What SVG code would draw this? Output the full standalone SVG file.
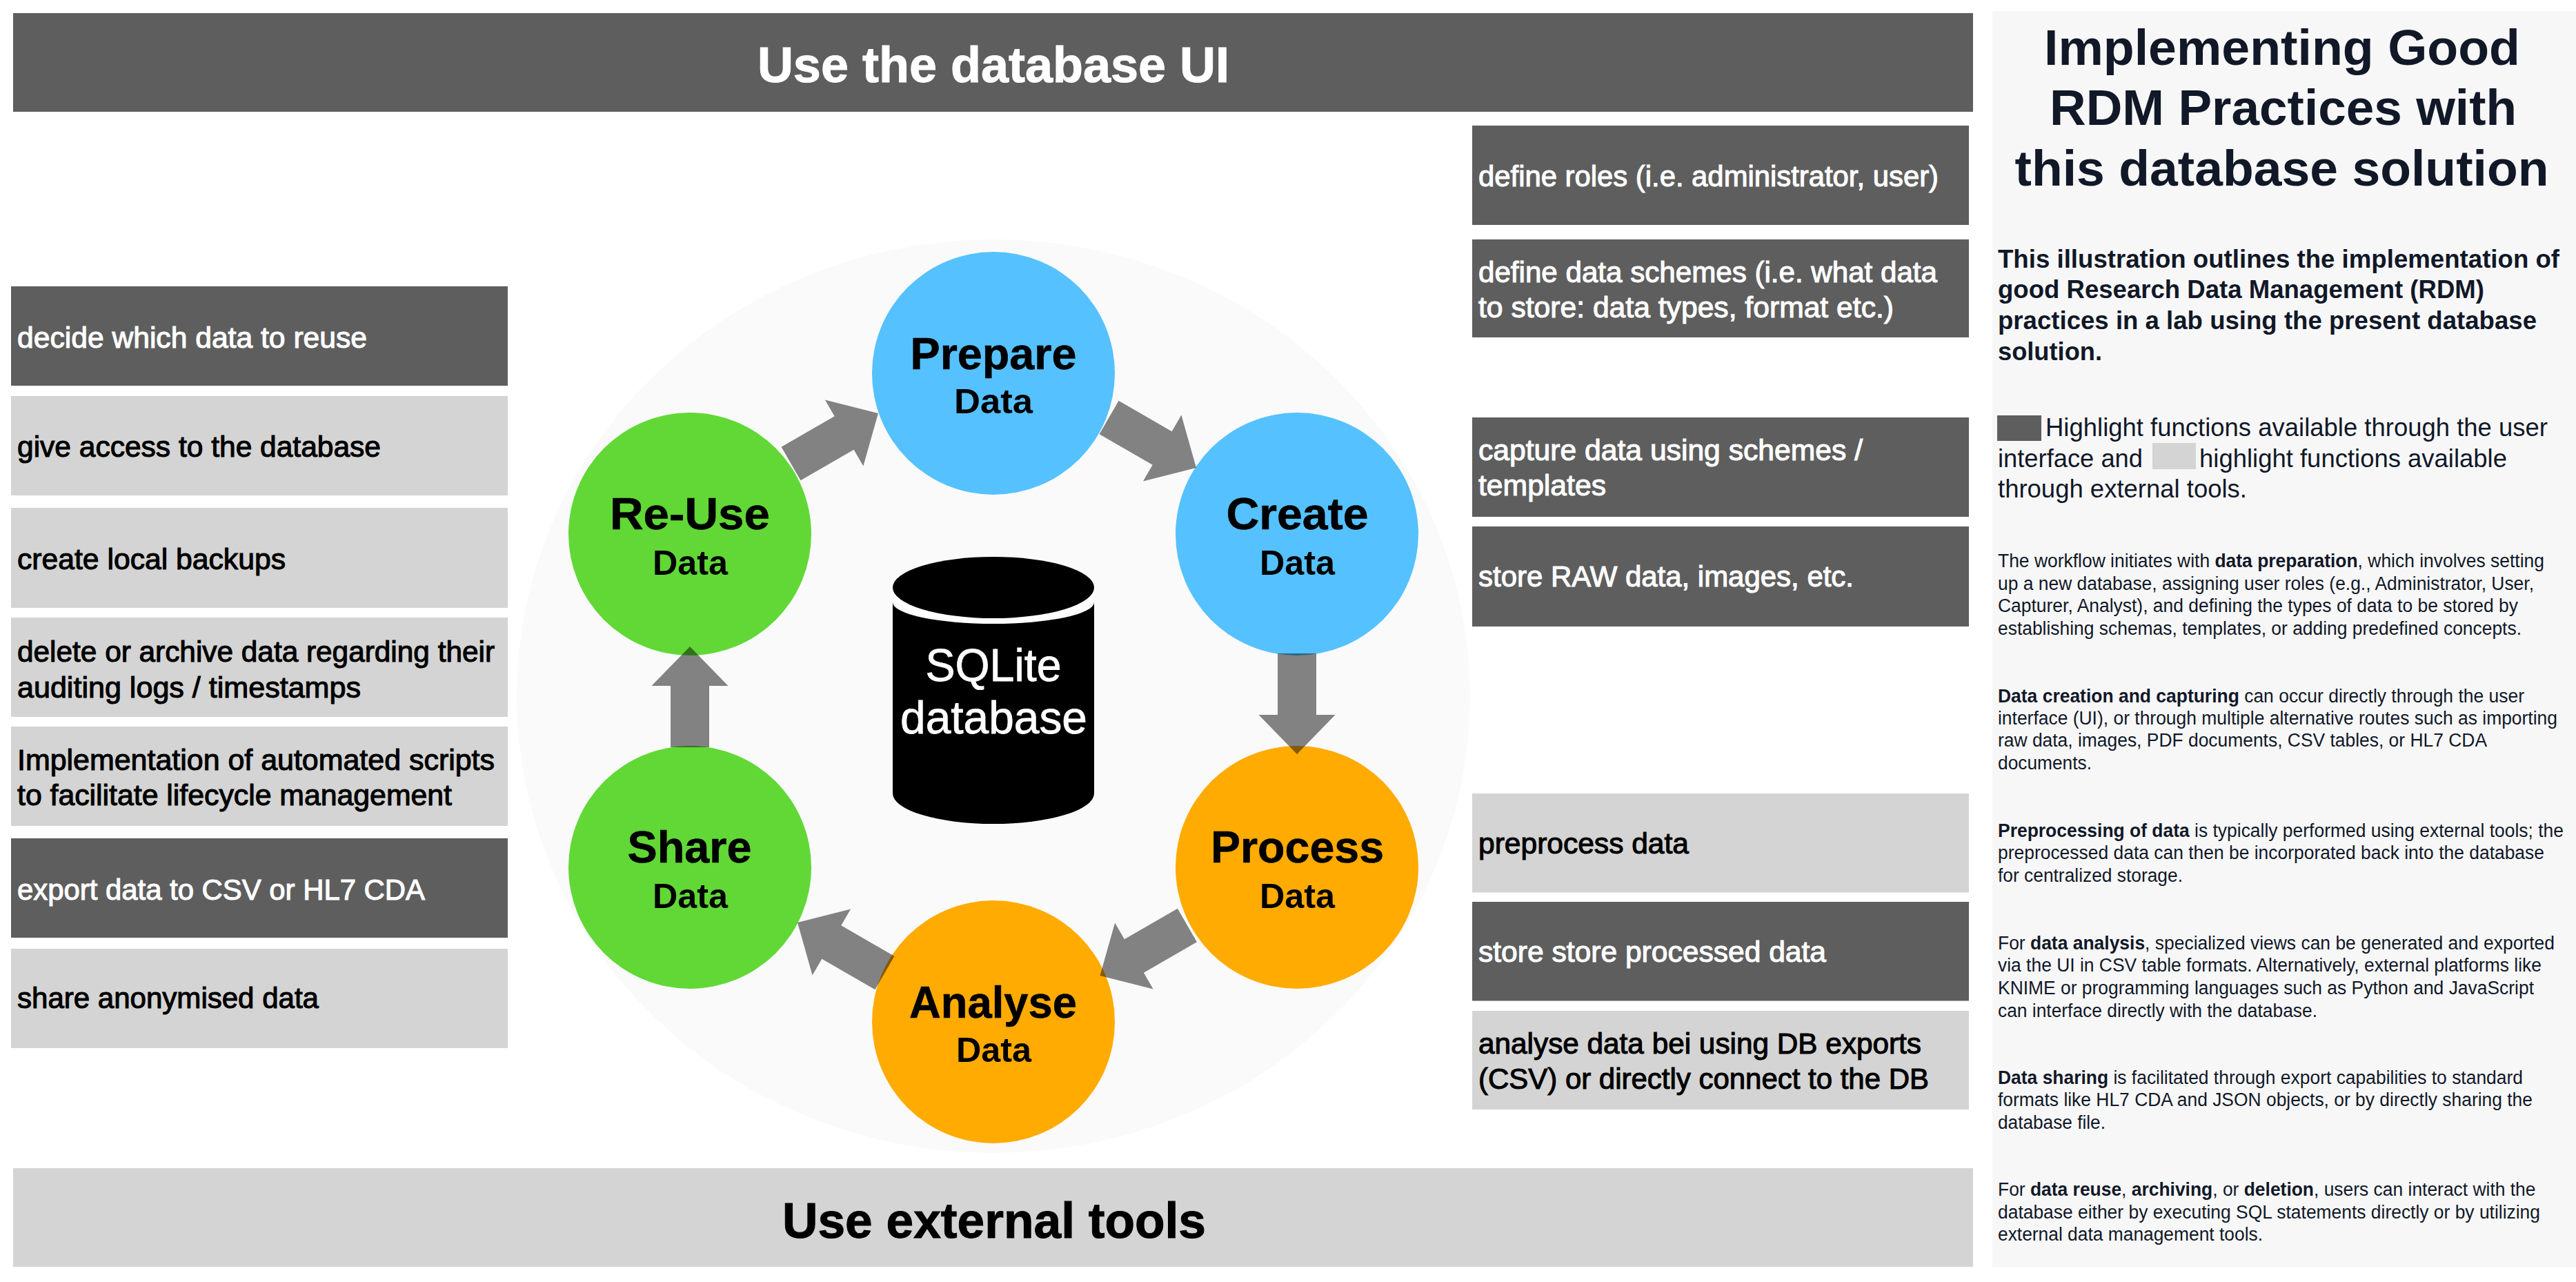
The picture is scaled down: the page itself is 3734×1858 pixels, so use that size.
<svg xmlns="http://www.w3.org/2000/svg" width="3734" height="1858" viewBox="0 0 3734 1858">
<style>
text{font-family:"Liberation Sans",Arial,sans-serif}
.dark{fill:#5e5e5e}.light{fill:#d4d4d4}
.box{font-size:42.5px;stroke-width:1.1px}
.w{fill:#fff;stroke:#fff}.k{fill:#000;stroke:#000}
.banner{font-size:72px;font-weight:700;text-anchor:middle}
.big{font-size:64px;font-weight:700;text-anchor:middle;fill:#000;stroke:#000;stroke-width:.6px}
.sub{font-size:50px;font-weight:700;text-anchor:middle;fill:#000}
.blue{fill:#56c1ff}.green{fill:#61d836}.orange{fill:#ffab01}
.title{font-size:73px;font-weight:700;text-anchor:middle;fill:#111827}
.intro{font-size:36.7px;font-weight:700;fill:#111827}
.legend{font-size:36.5px;fill:#111827}
.para{font-size:27px;fill:#111827}
.b{font-weight:700}
.db{font-size:66px;fill:#fff;stroke:#fff;stroke-width:.8px;text-anchor:middle}
</style>
<defs>
<polygon id="arrow" points="-146,-28 -57,-28 -57,-55.5 0,0 -57,55.5 -57,28 -146,28" fill="#000" fill-opacity=".48"/>
</defs>
<rect width="3734" height="1858" fill="#fff"/>
<g id="banner-ui"><rect class="dark" x="19" y="19" width="2841" height="143"/><text class="banner w" x="1440" y="119">Use the database UI</text></g>
<g id="banner-ext"><rect class="light" x="19" y="1693" width="2841" height="143"/><text class="banner k" x="1441" y="1794" textLength="614" lengthAdjust="spacingAndGlyphs">Use external tools</text></g>
<g id="panel">
<rect x="2888" y="16" width="846" height="1821" fill="#f7f7f8"/>
<text class="title" x="3308" y="94" textLength="690" lengthAdjust="spacingAndGlyphs">Implementing Good</text>
<text class="title" x="3309.5" y="181" textLength="677" lengthAdjust="spacingAndGlyphs">RDM Practices with</text>
<text class="title" x="3307.5" y="269" textLength="774" lengthAdjust="spacingAndGlyphs">this database solution</text>
<text class="intro" x="2896" y="388" textLength="814" lengthAdjust="spacingAndGlyphs">This illustration outlines the implementation of</text>
<text class="intro" x="2896" y="432" textLength="705" lengthAdjust="spacingAndGlyphs">good Research Data Management (RDM)</text>
<text class="intro" x="2896" y="477" textLength="781" lengthAdjust="spacingAndGlyphs">practices in a lab using the present database</text>
<text class="intro" x="2896" y="522" textLength="151" lengthAdjust="spacingAndGlyphs">solution.</text>
<rect class="dark" x="2895" y="602" width="64" height="37"/><rect class="light" x="3120" y="642" width="63" height="38"/>
<text class="legend" x="2965" y="632" textLength="728" lengthAdjust="spacingAndGlyphs">Highlight functions available through the user</text>
<text class="legend" x="2896" y="677" textLength="210" lengthAdjust="spacingAndGlyphs">interface and</text>
<text class="legend" x="3188" y="677" textLength="446" lengthAdjust="spacingAndGlyphs">highlight functions available</text>
<text class="legend" x="2896" y="721" textLength="361" lengthAdjust="spacingAndGlyphs">through external tools.</text>
<text class="para" x="2896" y="822" textLength="792" lengthAdjust="spacingAndGlyphs">The workflow initiates with <tspan class="b">data preparation</tspan>, which involves setting</text>
<text class="para" x="2896" y="855" textLength="777" lengthAdjust="spacingAndGlyphs">up a new database, assigning user roles (e.g., Administrator, User,</text>
<text class="para" x="2896" y="887" textLength="754" lengthAdjust="spacingAndGlyphs">Capturer, Analyst), and defining the types of data to be stored by</text>
<text class="para" x="2896" y="920" textLength="759" lengthAdjust="spacingAndGlyphs">establishing schemas, templates, or adding predefined concepts.</text>
<text class="para" x="2896" y="1018" textLength="763" lengthAdjust="spacingAndGlyphs"><tspan class="b">Data creation and capturing</tspan> can occur directly through the user</text>
<text class="para" x="2896" y="1050" textLength="811" lengthAdjust="spacingAndGlyphs">interface (UI), or through multiple alternative routes such as importing</text>
<text class="para" x="2896" y="1082" textLength="709" lengthAdjust="spacingAndGlyphs">raw data, images, PDF documents, CSV tables, or HL7 CDA</text>
<text class="para" x="2896" y="1115" textLength="136" lengthAdjust="spacingAndGlyphs">documents.</text>
<text class="para" x="2896" y="1213" textLength="820" lengthAdjust="spacingAndGlyphs"><tspan class="b">Preprocessing of data</tspan> is typically performed using external tools; the</text>
<text class="para" x="2896" y="1245" textLength="792" lengthAdjust="spacingAndGlyphs">preprocessed data can then be incorporated back into the database</text>
<text class="para" x="2896" y="1278" textLength="268" lengthAdjust="spacingAndGlyphs">for centralized storage.</text>
<text class="para" x="2896" y="1376" textLength="807" lengthAdjust="spacingAndGlyphs">For <tspan class="b">data analysis</tspan>, specialized views can be generated and exported</text>
<text class="para" x="2896" y="1408" textLength="788" lengthAdjust="spacingAndGlyphs">via the UI in CSV table formats. Alternatively, external platforms like</text>
<text class="para" x="2896" y="1441" textLength="777" lengthAdjust="spacingAndGlyphs">KNIME or programming languages such as Python and JavaScript</text>
<text class="para" x="2896" y="1474" textLength="463" lengthAdjust="spacingAndGlyphs">can interface directly with the database.</text>
<text class="para" x="2896" y="1571" textLength="761" lengthAdjust="spacingAndGlyphs"><tspan class="b">Data sharing</tspan> is facilitated through export capabilities to standard</text>
<text class="para" x="2896" y="1603" textLength="775" lengthAdjust="spacingAndGlyphs">formats like HL7 CDA and JSON objects, or by directly sharing the</text>
<text class="para" x="2896" y="1636" textLength="156" lengthAdjust="spacingAndGlyphs">database file.</text>
<text class="para" x="2896" y="1733" textLength="779.5" lengthAdjust="spacingAndGlyphs">For <tspan class="b">data reuse</tspan>, <tspan class="b">archiving</tspan>, or <tspan class="b">deletion</tspan>, users can interact with the</text>
<text class="para" x="2896" y="1766" textLength="786" lengthAdjust="spacingAndGlyphs">database either by executing SQL statements directly or by utilizing</text>
<text class="para" x="2896" y="1798" textLength="384" lengthAdjust="spacingAndGlyphs">external data management tools.</text>
</g>
<ellipse id="backdrop" cx="1440" cy="1009" rx="691" ry="662" fill="#fafafa"/>
<g id="prepare"><circle class="blue" cx="1440" cy="541" r="176"/><text class="big" x="1440" y="535" textLength="241" lengthAdjust="spacingAndGlyphs">Prepare</text><text class="sub" x="1440" y="599" textLength="114" lengthAdjust="spacingAndGlyphs">Data</text></g>
<g id="create"><circle class="blue" cx="1880" cy="774" r="176"/><text class="big" x="1880.5" y="767" textLength="206" lengthAdjust="spacingAndGlyphs">Create</text><text class="sub" x="1880.5" y="833" textLength="109" lengthAdjust="spacingAndGlyphs">Data</text></g>
<g id="process"><circle class="orange" cx="1880" cy="1257" r="176"/><text class="big" x="1880.5" y="1250" textLength="251" lengthAdjust="spacingAndGlyphs">Process</text><text class="sub" x="1880.5" y="1316" textLength="109" lengthAdjust="spacingAndGlyphs">Data</text></g>
<g id="analyse"><circle class="orange" cx="1440" cy="1481" r="176"/><text class="big" x="1439.5" y="1475" textLength="243" lengthAdjust="spacingAndGlyphs">Analyse</text><text class="sub" x="1440.5" y="1539" textLength="109" lengthAdjust="spacingAndGlyphs">Data</text></g>
<g id="share"><circle class="green" cx="1000" cy="1257" r="176"/><text class="big" x="999.5" y="1250" textLength="180" lengthAdjust="spacingAndGlyphs">Share</text><text class="sub" x="1000.5" y="1316" textLength="109" lengthAdjust="spacingAndGlyphs">Data</text></g>
<g id="reuse"><circle class="green" cx="1000" cy="774" r="176"/><text class="big" x="1000" y="767" textLength="232" lengthAdjust="spacingAndGlyphs">Re-Use</text><text class="sub" x="1000.5" y="833" textLength="109" lengthAdjust="spacingAndGlyphs">Data</text></g>
<g id="connectors">
<use href="#arrow" transform="translate(1734 678) rotate(30)"/>
<use href="#arrow" transform="translate(1880 1093) rotate(90)"/>
<use href="#arrow" transform="translate(1594.5 1414) rotate(150)"/>
<use href="#arrow" transform="translate(1156 1337) rotate(210)"/>
<use href="#arrow" transform="translate(1000 937) rotate(-90)"/>
<use href="#arrow" transform="translate(1273 599) rotate(-30)"/>
</g>
<g id="database">
<ellipse cx="1440" cy="860" rx="146" ry="44" fill="#fff"/>
<path d="M1294 873V1150A146 44 0 0 0 1586 1150V873A146 31 0 0 1 1294 873Z" fill="#000"/>
<ellipse cx="1440" cy="851.5" rx="146" ry="44.500" fill="#000"/>
<text class="db" x="1440" y="987" textLength="197" lengthAdjust="spacingAndGlyphs">SQLite</text>
<text class="db" x="1440.500" y="1063" textLength="271" lengthAdjust="spacingAndGlyphs">database</text>
</g>
<g id="task-reuse-decide"><rect class="dark" x="16" y="415" width="720" height="144"/><text class="box w" x="25" y="503.5" textLength="507" lengthAdjust="spacingAndGlyphs">decide which data to reuse</text></g>
<g id="task-access"><rect class="light" x="16" y="574" width="720" height="144"/><text class="box k" x="25" y="662" textLength="527" lengthAdjust="spacingAndGlyphs">give access to the database</text></g>
<g id="task-backups"><rect class="light" x="16" y="736" width="720" height="145"/><text class="box k" x="25" y="824.5" textLength="389" lengthAdjust="spacingAndGlyphs">create local backups</text></g>
<g id="task-delete"><rect class="light" x="16" y="895" width="720" height="144"/><text class="box k" x="25" y="959" textLength="692" lengthAdjust="spacingAndGlyphs">delete or archive data regarding their</text><text class="box k" x="25" y="1011" textLength="498" lengthAdjust="spacingAndGlyphs">auditing logs / timestamps</text></g>
<g id="task-scripts"><rect class="light" x="16" y="1053" width="720" height="144"/><text class="box k" x="25" y="1116" textLength="692" lengthAdjust="spacingAndGlyphs">Implementation of automated scripts</text><text class="box k" x="25" y="1167" textLength="630" lengthAdjust="spacingAndGlyphs">to facilitate lifecycle management</text></g>
<g id="task-export"><rect class="dark" x="16" y="1215" width="720" height="144"/><text class="box w" x="25" y="1304" textLength="591" lengthAdjust="spacingAndGlyphs">export data to CSV or HL7 CDA</text></g>
<g id="task-share"><rect class="light" x="16" y="1375" width="720" height="144"/><text class="box k" x="25" y="1461" textLength="437" lengthAdjust="spacingAndGlyphs">share anonymised data</text></g>
<g id="task-roles"><rect class="dark" x="2134" y="182" width="720" height="144"/><text class="box w" x="2143" y="269.5" textLength="667" lengthAdjust="spacingAndGlyphs">define roles (i.e. administrator, user)</text></g>
<g id="task-schemes"><rect class="dark" x="2134" y="347" width="720" height="142"/><text class="box w" x="2143" y="409" textLength="665" lengthAdjust="spacingAndGlyphs">define data schemes (i.e. what data</text><text class="box w" x="2143" y="460" textLength="602" lengthAdjust="spacingAndGlyphs">to store: data types, format etc.)</text></g>
<g id="task-capture"><rect class="dark" x="2134" y="605" width="720" height="144"/><text class="box w" x="2143" y="667" textLength="557" lengthAdjust="spacingAndGlyphs">capture data using schemes /</text><text class="box w" x="2143" y="718" textLength="185" lengthAdjust="spacingAndGlyphs">templates</text></g>
<g id="task-raw"><rect class="dark" x="2134" y="763" width="720" height="145"/><text class="box w" x="2143" y="850" textLength="544" lengthAdjust="spacingAndGlyphs">store RAW data, images, etc.</text></g>
<g id="task-preprocess"><rect class="light" x="2134" y="1150" width="720" height="143.5"/><text class="box k" x="2143" y="1237" textLength="305" lengthAdjust="spacingAndGlyphs">preprocess data</text></g>
<g id="task-store"><rect class="dark" x="2134" y="1307" width="720" height="143.5"/><text class="box w" x="2143" y="1394" textLength="504" lengthAdjust="spacingAndGlyphs">store store processed data</text></g>
<g id="task-analyse"><rect class="light" x="2134" y="1465" width="720" height="143"/><text class="box k" x="2143" y="1527" textLength="642" lengthAdjust="spacingAndGlyphs">analyse data bei using DB exports</text><text class="box k" x="2143" y="1578" textLength="653" lengthAdjust="spacingAndGlyphs">(CSV) or directly connect to the DB</text></g>
</svg>
